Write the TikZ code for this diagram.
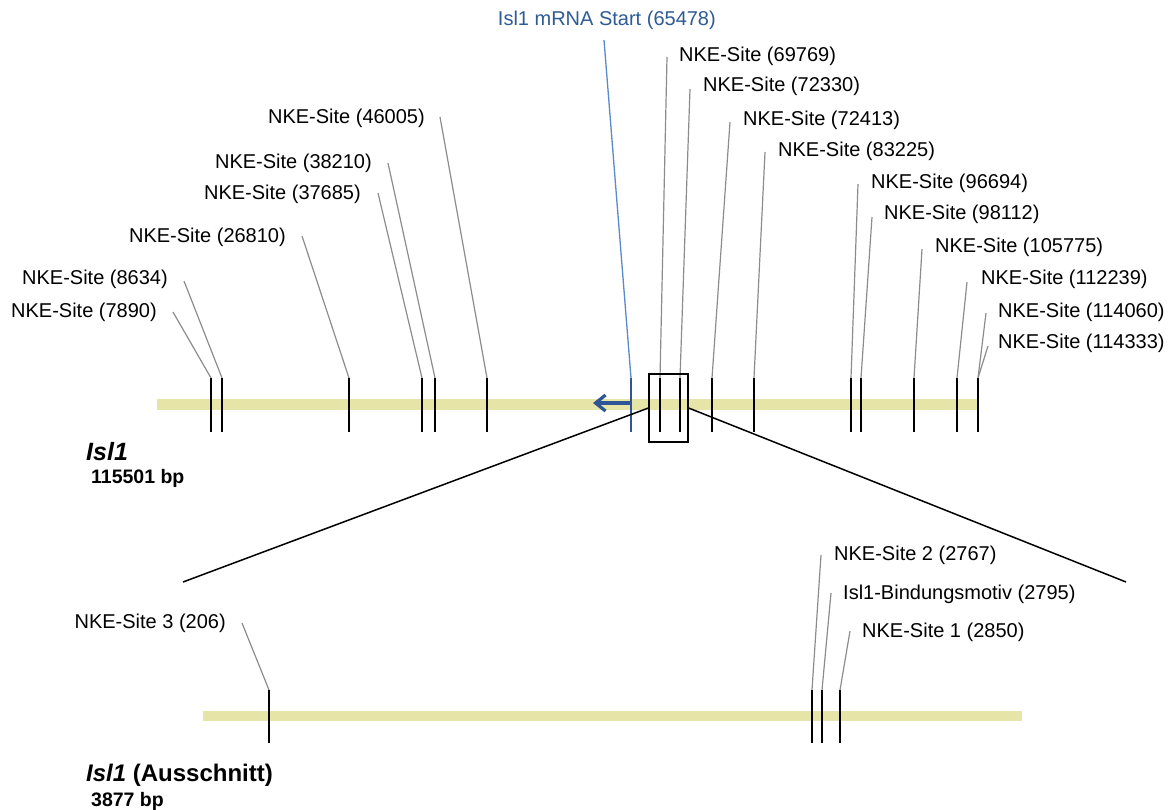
\documentclass[tikz,border=0pt]{standalone}
\usepackage{fontspec}
\setmainfont{Liberation Sans}
\usetikzlibrary{arrows.meta}
\definecolor{barcol}{HTML}{E6E4A6}
\definecolor{leadcol}{HTML}{8C8C8C}
\definecolor{bluetxt}{HTML}{2E5B94}
\definecolor{bluelead}{HTML}{5A8AC6}
\definecolor{bluedark}{HTML}{2F5597}
\tikzset{
  genebar/.style={barcol, line width=10.5pt},
  sitetick/.style={black, line width=2.4pt},
  leader/.style={leadcol, line width=1.2pt},
  lbl/.style={inner sep=0pt, font=\fontsize{20}{24}\selectfont},
  lblL/.style={lbl, anchor=east},
  lblR/.style={lbl, anchor=west},
  zoomline/.style={black, line width=1.5pt},
}
\begin{document}
\begin{tikzpicture}[x=1pt,y=-1pt]
\useasboundingbox (0,0) rectangle (1174,809);
% ---------- top gene ----------
\coordinate (barAs) at (157,404.5);
\coordinate (barAe) at (978,404.5);
\draw[genebar] (barAs) -- (barAe);
% ticks (top)
\foreach \n/\x in {a/211,b/222,c/349,d/422,e/435,f/487,h/660,i/680,j/712,k/754,l/851,m/861,n/914,o/957,p/978}{
  \coordinate (t\n) at (\x,378);
  \coordinate (b\n) at (\x,432);
  \draw[sitetick] (t\n) -- (b\n);
}
% mRNA start tick
\coordinate (tg) at (631,378);
\coordinate (bg) at (631,432);
\coordinate (arrS) at (631,403);
\coordinate (arrE) at (593,403);
\draw[bluedark, line width=3.2pt, -{Straight Barb[length=10pt,width=16pt]}] (arrS) -- (arrE);
\draw[bluedark, line width=2.2pt] (tg) -- (bg);
% left labels
\node[lblL] (la) at (157,312) {NKE-Site (7890)};
\node[lblL] (lb) at (168,279) {NKE-Site (8634)};
\node[lblL] (lc) at (286,237) {NKE-Site (26810)};
\node[lblL] (ld) at (361,194) {NKE-Site (37685)};
\node[lblL] (le) at (372,163) {NKE-Site (38210)};
\node[lblL] (lf) at (425,118) {NKE-Site (46005)};
\coordinate (ea) at (173,312);
\coordinate (eb) at (184,281);
\coordinate (ec) at (302,236);
\coordinate (ed) at (378,193);
\coordinate (ee) at (388,163);
\coordinate (ef) at (440,117);
% blue label
\node[lbl, anchor=east, text=bluetxt] (lg) at (716,20) {Isl1 mRNA Start (65478)};
\coordinate (eg) at (604,40);
\draw[bluelead, line width=1.3pt] (eg) -- (tg);
% right labels
\node[lblR] (lh) at (679,56) {NKE-Site (69769)};
\node[lblR] (li) at (703,86) {NKE-Site (72330)};
\node[lblR] (lj) at (743,120) {NKE-Site (72413)};
\node[lblR] (lk) at (778,151) {NKE-Site (83225)};
\node[lblR] (ll) at (871,183) {NKE-Site (96694)};
\node[lblR] (lm) at (884,214) {NKE-Site (98112)};
\node[lblR] (ln) at (935,247) {NKE-Site (105775)};
\node[lblR] (lo) at (981,279) {NKE-Site (112239)};
\node[lblR] (lp) at (998,312) {NKE-Site (114060)};
\node[lblR] (lq) at (998,343) {NKE-Site (114333)};
\coordinate (eh) at (667,57);
\coordinate (ei) at (690,89);
\coordinate (ej) at (730,122);
\coordinate (ek) at (765,152);
\coordinate (el) at (858,184);
\coordinate (em) at (872,217);
\coordinate (en) at (922,249);
\coordinate (eo) at (967,282);
\coordinate (ep) at (986,313);
\coordinate (eq) at (988,346);
\foreach \n in {a,b,c,d,e,f,h,i,j,k,l,m,n,o,p}{
  \draw[leader] (e\n) -- (t\n);
}
\draw[leader] (eq) -- (tp);
% zoom box
\node[draw=black, line width=1.2pt, minimum width=39pt, minimum height=68pt, inner sep=0pt] (zbox) at (668.5,408) {};
\coordinate (zl) at (183,582);
\coordinate (zr) at (1126,582);
\draw[zoomline] (zbox.west) -- (zl);
\draw[zoomline] (zbox.east) -- (zr);
% title top
\node[inner sep=0pt, anchor=west, font=\fontsize{25}{29}\selectfont\bfseries\itshape] (titA) at (86,452) {Isl1};
\node[inner sep=0pt, anchor=west, font=\fontsize{19.5}{23}\selectfont\bfseries] (lenA) at (91,478) {115501 bp};
% ---------- bottom gene ----------
\coordinate (barBs) at (203,716);
\coordinate (barBe) at (1022,716);
\draw[genebar] (barBs) -- (barBe);
\foreach \n/\x in {r/269,s/812,u/822,v/840}{
  \coordinate (t\n) at (\x,690);
  \coordinate (b\n) at (\x,743);
  \draw[sitetick] (t\n) -- (b\n);
}
\node[lblL] (lr) at (226,623) {NKE-Site 3 (206)};
\node[lblR] (ls) at (834,555) {NKE-Site 2 (2767)};
\node[lblR] (lu) at (843,594) {Isl1-Bindungsmotiv (2795)};
\node[lblR] (lv) at (862,632) {NKE-Site 1 (2850)};
\coordinate (er) at (242,623);
\coordinate (es) at (821,555);
\coordinate (eu) at (831,593);
\coordinate (ev) at (850,631);
\foreach \n in {r,s,u,v}{
  \draw[leader] (e\n) -- (t\n);
}
\node[inner sep=0pt, anchor=west, font=\fontsize{24}{28}\selectfont\bfseries] (titB) at (86,775) {\textit{Isl1} (Ausschnitt)};
\node[inner sep=0pt, anchor=west, font=\fontsize{19.5}{23}\selectfont\bfseries] (lenB) at (91,801) {3877 bp};
\end{tikzpicture}
\end{document}
